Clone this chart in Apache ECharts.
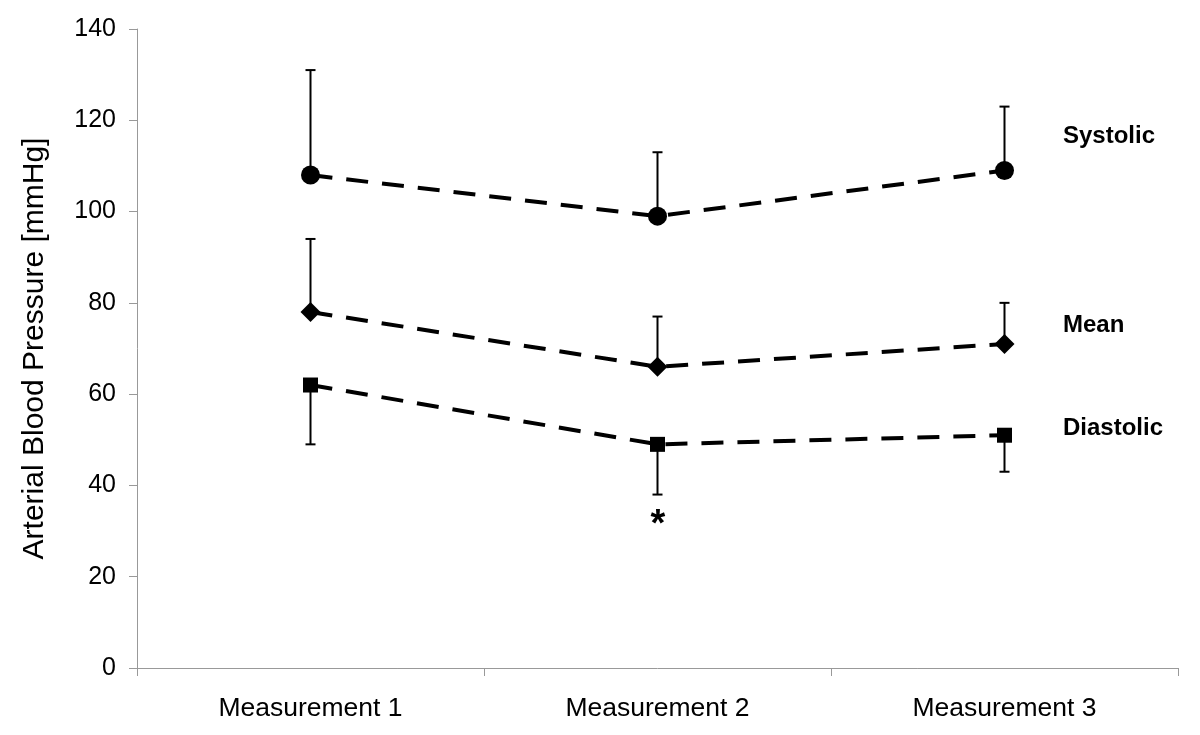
<!DOCTYPE html>
<html>
<head>
<meta charset="utf-8">
<script src="https://cdn.jsdelivr.net/npm/echarts@6/dist/echarts.min.js"></script>
<style>
html,body{margin:0;padding:0;background:#fff;}
#chart{width:1200px;height:735px;}
</style>
</head>
<body>
<div id="chart"></div>
<script>
const categories = ['Measurement 1', 'Measurement 2', 'Measurement 3'];
const yTicks = [0, 20, 40, 60, 80, 100, 120, 140];

const systolic = [108, 99, 109];
const systolicUpper = [131, 113, 123];
const meanBP = [78, 66, 71];
const meanUpper = [94, 77, 80];
const diastolic = [62, 49, 51];
const diastolicLower = [49, 38, 43];

const seriesLabels = ['Systolic', 'Mean', 'Diastolic'];
const significance = ['', '*', ''];

const FONT = '"Liberation Sans", Arial, Helvetica, sans-serif';

function errorSeries(name, base, ends) {
  const data = base.map((v, i) => [i, v, ends[i]]);
  return {
    type: 'custom',
    name: name + ' error',
    z: 1,
    silent: true,
    data: data,
    renderItem: function (params, api) {
      const x = api.value(0);
      const p0 = api.coord([x, api.value(1)]);
      const p1 = api.coord([x, api.value(2)]);
      const half = 5;
      return {
        type: 'group',
        children: [
          { type: 'line', shape: { x1: p0[0], y1: p0[1], x2: p1[0], y2: p1[1] },
            style: { stroke: '#000', lineWidth: 2 } },
          { type: 'line', shape: { x1: p1[0] - half, y1: p1[1], x2: p1[0] + half, y2: p1[1] },
            style: { stroke: '#000', lineWidth: 2 } }
        ]
      };
    }
  };
}

function lineSeries(name, data, symbol, size) {
  return {
    type: 'line',
    name: name,
    z: 3,
    data: data,
    symbol: symbol,
    symbolSize: size,
    showAllSymbol: true,
    lineStyle: { color: '#000', width: 4, type: [22, 14] },
    itemStyle: { color: '#000', borderWidth: 0 },
    emphasis: { disabled: true },
    animation: false
  };
}

const chart = echarts.init(document.getElementById('chart'), null, { renderer: 'canvas' });

const option = {
  animation: false,
  backgroundColor: '#fff',
  grid: { left: 137, right: 22, top: 29, bottom: 67, containLabel: false },
  xAxis: {
    type: 'category',
    data: categories,
    boundaryGap: true,
    axisLine: { lineStyle: { color: '#999', width: 1 } },
    axisTick: { show: true, length: 8, lineStyle: { color: '#999' } },
    axisLabel: { color: '#000', fontSize: 26.5, fontFamily: FONT, margin: 27 },
    splitLine: { show: false }
  },
  yAxis: {
    type: 'value',
    min: yTicks[0],
    max: yTicks[yTicks.length - 1],
    interval: yTicks[1] - yTicks[0],
    name: 'Arterial Blood Pressure [mmHg]',
    nameLocation: 'middle',
    nameGap: 87,
    nameRotate: 90,
    nameTextStyle: { color: '#000', fontSize: 30, fontFamily: FONT },
    axisLine: { show: true, lineStyle: { color: '#999', width: 1 } },
    axisTick: { show: true, length: 8, lineStyle: { color: '#999' } },
    axisLabel: { color: '#000', fontSize: 25, fontFamily: FONT, margin: 21 },
    splitLine: { show: false }
  },
  series: [
    errorSeries('Systolic', systolic, systolicUpper),
    errorSeries('Mean', meanBP, meanUpper),
    errorSeries('Diastolic', diastolic, diastolicLower),
    lineSeries('Systolic', systolic, 'circle', 19),
    lineSeries('Mean', meanBP, 'diamond', 20),
    lineSeries('Diastolic', diastolic, 'rect', 15)
  ],
  graphic: [
    { type: 'text', left: 1063, top: 124, style: { text: seriesLabels[0], font: 'bold 24px ' + FONT, fill: '#000' } },
    { type: 'text', left: 1063, top: 313, style: { text: seriesLabels[1], font: 'bold 24px ' + FONT, fill: '#000' } },
    { type: 'text', left: 1063, top: 416, style: { text: seriesLabels[2], font: 'bold 24px ' + FONT, fill: '#000' } },
    { type: 'text', x: 658, y: 507, style: { text: significance[1], font: 'bold 38px ' + FONT, fill: '#000', align: 'center', verticalAlign: 'top' } }
  ]
};

chart.setOption(option);
</script>
</body>
</html>
